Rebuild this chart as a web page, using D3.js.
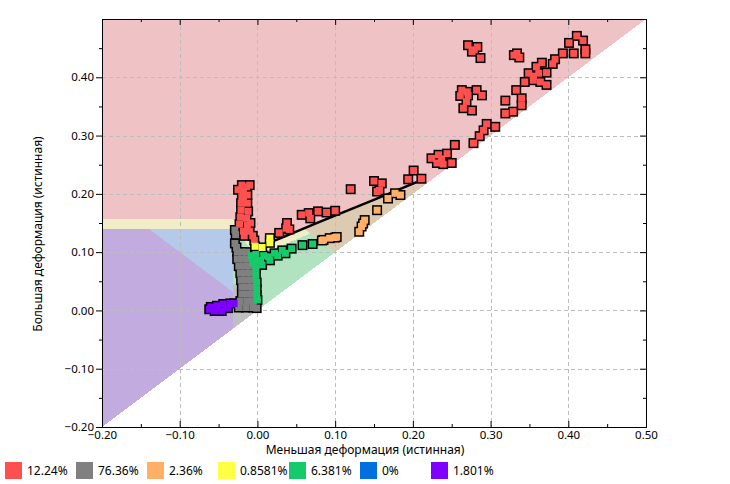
<!DOCTYPE html>
<html>
<head>
<meta charset="utf-8">
<script src="https://cdn.jsdelivr.net/npm/d3@7"></script>
<style>
  body { margin: 0; background: #fff; }
  svg text { font-family: "Noto Sans", "Segoe UI", sans-serif; fill: #000; }
</style>
</head>
<body>
<div id="chart"></div>
<script>
// ── data ─────────────────────────────────────────────────────────
const xTicks = [-0.2, -0.1, 0, 0.1, 0.2, 0.3, 0.4, 0.5]
const yTicks = [-0.2, -0.1, 0, 0.1, 0.2, 0.3, 0.4]
const minorTicks = [-0.15, -0.05, 0.05, 0.15, 0.25, 0.35, 0.45]

const legendLabels = ['12.24%', '76.36%', '2.36%', '0.8581%', '6.381%', '0%', '1.801%']
const legendColors = ['#ff5050', '#808080', '#ffb066', '#ffff44', '#16c96a', '#0070e0', '#8000ff']

// zone outlines (minor strain, major strain)
const zonePink   = [[-0.2, -0.2], [-0.2, 0.5], [0.5, 0.5]]
const zoneYellow = [[-0.2, -0.2], [-0.2, 0.157], [-0.032, 0.157], [0.0, 0.108], [0.03, 0.124], [0.08, 0.152], [0.145, 0.187], [0.22, 0.22]]
const zoneGreen  = [[-0.2, -0.2], [-0.2, 0.14], [-0.032, 0.14], [0.0, 0.095], [0.08, 0.138], [0.2, 0.2]]
const zoneTan    = [[0.1, 0.1], [0.058, 0.142], [0.08, 0.152], [0.145, 0.187], [0.22, 0.22]]
const zoneBlue   = [[-0.14, 0.14], [-0.032, 0.14], [-0.032, 0.032]]
const zonePurple = [[-0.2, -0.2], [-0.2, 0.14], [-0.14, 0.14], [-0.032, 0.032], [-0.032, -0.032]]
const zoneGray   = [[-0.032, -0.032], [-0.032, 0.045], [-0.012, 0.045], [0.004, 0.004]]

const flcLine = [[0.0, 0.108], [0.03, 0.124], [0.08, 0.152], [0.145, 0.187], [0.205, 0.22]]

const redPoints = [
  [0.271, 0.455], [0.283, 0.452], [0.276, 0.444], [0.279, 0.447], [0.287, 0.433],
  [0.411, 0.471], [0.419, 0.463], [0.401, 0.459], [0.422, 0.441], [0.422, 0.448], [0.407, 0.441], [0.393, 0.441],
  [0.334, 0.441], [0.337, 0.434], [0.330, 0.438], [0.383, 0.431], [0.380, 0.423], [0.366, 0.425], [0.359, 0.418],
  [0.372, 0.408], [0.362, 0.407], [0.349, 0.407], [0.344, 0.392], [0.355, 0.395], [0.364, 0.392],
  [0.372, 0.387], [0.355, 0.402], [0.333, 0.378], [0.340, 0.364], [0.340, 0.352], [0.319, 0.360], [0.329, 0.341],
  [0.319, 0.338],
  [0.263, 0.378], [0.282, 0.378], [0.261, 0.368], [0.271, 0.369], [0.289, 0.369], [0.269, 0.358],
  [0.265, 0.347], [0.276, 0.343], [0.270, 0.375],
  [0.306, 0.315], [0.295, 0.320], [0.291, 0.309], [0.286, 0.299], [0.254, 0.284], [0.278, 0.287],
  [0.224, 0.261], [0.233, 0.267], [0.244, 0.269], [0.231, 0.253], [0.239, 0.251], [0.250, 0.253],
  [0.237, 0.260], [0.201, 0.240], [0.194, 0.225], [0.211, 0.226], [0.150, 0.222], [0.160, 0.218], [0.154, 0.204],
  [0.157, 0.206], [0.120, 0.208], [0.100, 0.171], [0.089, 0.168], [0.078, 0.170], [0.066, 0.167],
  [0.068, 0.158], [0.057, 0.164], [0.038, 0.150], [0.041, 0.139], [0.028, 0.133], [0.037, 0.141],
  [-0.020, 0.215], [-0.010, 0.215], [-0.025, 0.207], [-0.014, 0.212], [-0.018, 0.204], [-0.020, 0.195],
  [-0.013, 0.198], [-0.021, 0.184], [-0.013, 0.184], [-0.021, 0.172], [-0.012, 0.170], [-0.022, 0.160],
  [-0.014, 0.158], [-0.023, 0.148], [-0.013, 0.146], [-0.018, 0.136], [-0.010, 0.136], [-0.006, 0.128],
  [-0.004, 0.120], [-0.017, 0.128], [-0.009, 0.150], [-0.018, 0.190]
]

const grayPoints = [
  [-0.029, 0.138], [-0.028, 0.130], [-0.029, 0.115], [-0.027, 0.108],
  [-0.026, 0.100], [-0.020, 0.100], [-0.014, 0.100],
  [-0.026, 0.088], [-0.018, 0.088], [-0.012, 0.088],
  [-0.024, 0.076], [-0.016, 0.076], [-0.010, 0.076],
  [-0.022, 0.064], [-0.015, 0.064], [-0.008, 0.064],
  [-0.021, 0.052], [-0.013, 0.052], [-0.007, 0.052],
  [-0.020, 0.040], [-0.012, 0.040], [-0.006, 0.040],
  [-0.020, 0.028], [-0.012, 0.028], [-0.006, 0.028],
  [-0.022, 0.016], [-0.013, 0.016], [-0.005, 0.016],
  [-0.024, 0.005], [-0.015, 0.005], [-0.006, 0.005], [-0.001, 0.004]
]

const orangePoints = [
  [0.177, 0.201], [0.168, 0.192], [0.184, 0.198], [0.154, 0.172], [0.138, 0.155], [0.134, 0.144],
  [0.131, 0.135], [0.136, 0.149], [0.085, 0.121], [0.093, 0.124], [0.100, 0.125], [0.102, 0.126],
  [0.083, 0.120]
]

const yellowPoints = [[-0.003, 0.110], [0.006, 0.108], [0.016, 0.116], [0.016, 0.124]]

const greenPoints = [
  [-0.008, 0.094], [-0.002, 0.096], [0.004, 0.086], [0.008, 0.094], [0.014, 0.092], [0.016, 0.086],
  [0.022, 0.098], [0.026, 0.094], [0.032, 0.103], [0.036, 0.098], [0.044, 0.106], [0.058, 0.112],
  [0.071, 0.114], [-0.002, 0.084], [-0.002, 0.072], [-0.002, 0.060], [-0.001, 0.048], [-0.001, 0.036],
  [-0.001, 0.026], [0.000, 0.018], [-0.006, 0.082], [0.006, 0.078]
]

const purplePoints = [
  [-0.060, 0.006], [-0.052, 0.008], [-0.044, 0.011], [-0.035, 0.012], [-0.030, 0.012],
  [-0.055, -0.001], [-0.046, -0.001], [-0.038, 0.004], [-0.062, 0.002]
]

// ── chart ────────────────────────────────────────────────────────
const W = 730, H = 484
const PLOT = { left: 102, right: 646, top: 19, bottom: 427 }

const svg = d3.select('#chart').append('svg').attr('width', W).attr('height', H)

const x = d3.scaleLinear().domain([-0.2, 0.5]).range([PLOT.left, PLOT.right])
const y = d3.scaleLinear().domain([-0.2, 0.5]).range([PLOT.bottom, PLOT.top])

const poly = d3.line().x(d => x(d[0])).y(d => y(d[1]))

// zones
const zones = [
  [zonePink, '#efc3c5'],
  [zoneYellow, '#f1edc6'],
  [zoneGreen, '#b1e3c1'],
  [zoneTan, '#ddcbb1'],
  [zoneBlue, '#b5c9ea'],
  [zonePurple, '#c1abdf'],
  [zoneGray, '#c0c0c0'],
]
svg.append('g').selectAll('path').data(zones).join('path')
  .attr('d', d => poly(d[0]) + 'Z')
  .attr('fill', d => d[1])
  .attr('shape-rendering', 'crispEdges')

// grid
const grid = svg.append('g').attr('stroke', '#bdbdbd').attr('stroke-dasharray', '4 3')
grid.selectAll('.gx').data(xTicks.slice(1, -1)).join('line')
  .attr('x1', d => Math.round(x(d)) + 0.5).attr('x2', d => Math.round(x(d)) + 0.5)
  .attr('y1', PLOT.top).attr('y2', PLOT.bottom)
grid.selectAll('.gy').data(yTicks.slice(1)).join('line')
  .attr('y1', d => Math.round(y(d)) + 0.5).attr('y2', d => Math.round(y(d)) + 0.5)
  .attr('x1', PLOT.left).attr('x2', PLOT.right)

// forming limit line
svg.append('path').attr('d', poly(flcLine))
  .attr('fill', 'none').attr('stroke', '#000').attr('stroke-width', 2.4)

// points: black outlines first, then fills, so blobs share one outline
const series = [
  [redPoints, legendColors[0]],
  [grayPoints, legendColors[1]],
  [orangePoints, legendColors[2]],
  [yellowPoints, legendColors[3]],
  [greenPoints, legendColors[4]],
  [purplePoints, legendColors[6]],
]
const OUT = 10, IN = 7
const gOut = svg.append('g'), gIn = svg.append('g')
series.forEach(([pts, color]) => {
  gOut.selectAll(null).data(pts).join('rect')
    .attr('x', d => x(d[0]) - OUT / 2).attr('y', d => y(d[1]) - OUT / 2)
    .attr('width', OUT).attr('height', OUT).attr('fill', '#000')
})
series.forEach(([pts, color]) => {
  gIn.selectAll(null).data(pts).join('rect')
    .attr('x', d => x(d[0]) - IN / 2).attr('y', d => y(d[1]) - IN / 2)
    .attr('width', IN).attr('height', IN).attr('fill', color)
})

// axes
const fmt = d3.format('.2f')
const axisStyle = g => {
  g.select('.domain').attr('stroke', '#000')
  g.selectAll('line').attr('stroke', '#000')
  g.selectAll('text').style('font-size', '11.5px').style('font-family', '"Noto Sans", sans-serif')
}

svg.append('g').attr('transform', `translate(0,${PLOT.bottom})`)
  .call(d3.axisBottom(x).tickValues(xTicks).tickFormat(fmt).tickSizeInner(-6).tickSizeOuter(0).tickPadding(4))
  .call(axisStyle)
svg.append('g').attr('transform', `translate(0,${PLOT.bottom})`)
  .call(d3.axisBottom(x).tickValues(minorTicks).tickFormat('').tickSizeInner(-3).tickSizeOuter(0))
  .call(axisStyle)

svg.append('g').attr('transform', `translate(${PLOT.left},0)`)
  .call(d3.axisLeft(y).tickValues(yTicks).tickFormat(fmt).tickSizeInner(6).tickSizeOuter(0).tickPadding(2))
  .call(axisStyle)
svg.append('g').attr('transform', `translate(${PLOT.left},0)`)
  .call(d3.axisLeft(y).tickValues(minorTicks).tickFormat('').tickSizeInner(3).tickSizeOuter(0))
  .call(axisStyle)

svg.append('g').attr('transform', `translate(0,${PLOT.top})`)
  .call(d3.axisTop(x).tickValues(xTicks).tickFormat('').tickSizeInner(-6).tickSizeOuter(0))
  .call(axisStyle)
svg.append('g').attr('transform', `translate(0,${PLOT.top})`)
  .call(d3.axisTop(x).tickValues(minorTicks).tickFormat('').tickSizeInner(-3).tickSizeOuter(0))
  .call(axisStyle)

svg.append('g').attr('transform', `translate(${PLOT.right},0)`)
  .call(d3.axisRight(y).tickValues(yTicks).tickFormat('').tickSizeInner(-6).tickSizeOuter(0))
  .call(axisStyle)
svg.append('g').attr('transform', `translate(${PLOT.right},0)`)
  .call(d3.axisRight(y).tickValues(minorTicks).tickFormat('').tickSizeInner(-3).tickSizeOuter(0))
  .call(axisStyle)

// axis titles
svg.append('text').attr('x', 365).attr('y', 454).attr('text-anchor', 'middle')
  .style('font-size', '12px').text('Меньшая деформация (истинная)')
svg.append('text').attr('transform', 'rotate(-90)')
  .attr('x', -234).attr('y', 42).attr('text-anchor', 'middle')
  .style('font-size', '12px').text('Большая деформация (истинная)')

// legend
const leg = svg.append('g').selectAll('g').data(legendLabels).join('g')
  .attr('transform', (d, i) => `translate(${5 + i * 71},462)`)
leg.append('rect').attr('width', 17).attr('height', 17).attr('fill', (d, i) => legendColors[i])
leg.append('text').attr('x', 22).attr('y', 13).style('font-size', '12px').text(d => d)
</script>
</body>
</html>
